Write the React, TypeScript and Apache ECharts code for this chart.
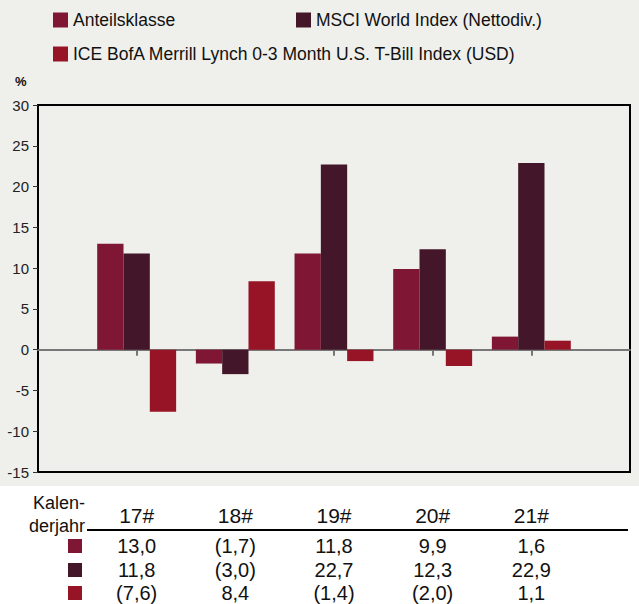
import React, { useEffect, useRef } from "react";
import * as echarts from "echarts";

const categories = ["17#", "18#", "19#", "20#", "21#"];
const seriesNames = [
  "Anteilsklasse",
  "MSCI World Index (Nettodiv.)",
  "ICE BofA Merrill Lynch 0-3 Month U.S. T-Bill Index (USD)",
];
const anteilsklasse = [13.0, -1.7, 11.8, 9.9, 1.6];
const msciWorld = [11.8, -3.0, 22.7, 12.3, 22.9];
const iceBofa = [-7.6, 8.4, -1.4, -2.0, 1.1];
const yTicks = { min: -15, max: 30, interval: 5 };
const colors = ["#7f1734", "#431629", "#961425"];

const FONT = "'Liberation Sans', Arial, sans-serif";

const fmt = (v: number) => {
  const s = Math.abs(v).toFixed(1).replace(".", ",");
  return v < 0 ? `(${s})` : s;
};

export default function App() {
  const ref = useRef<HTMLDivElement>(null);
  useEffect(() => {
    document.body.style.margin = "0";
    document.body.style.overflow = "hidden";
    const chart = echarts.init(ref.current!, null, { renderer: "svg" });
    const axisCats = ["", ...categories, ""];
    const pad = (arr: number[]) => ["-", ...arr, "-"];
    const allSeries = [anteilsklasse, msciWorld, iceBofa];
    const rowOffsets = [74, 98, 121];

    const valueAxis = (idx: number, offset: number) => ({
      type: "category",
      data: axisCats,
      boundaryGap: false,
      position: "bottom",
      offset,
      axisLine: { show: false, onZero: false },
      axisTick: { show: false },
      axisLabel: {
        interval: 0,
        margin: 0,
        verticalAlign: "middle",
        fontSize: 20,
        fontFamily: FONT,
        color: "#111",
        formatter: (_v: string, i: number) =>
          i >= 1 && i <= categories.length ? fmt(allSeries[idx][i - 1]) : "",
      },
    });

    chart.setOption({
      animation: false,
      backgroundColor: "transparent",
      textStyle: { fontFamily: FONT },
      grid: {
        left: 38,
        right: 9,
        top: 105,
        bottom: 132,
        show: true,
        borderColor: "#000",
        borderWidth: 2,
        backgroundColor: "transparent",
        outerBoundsMode: "none",
        containLabel: false,
      },
      legend: [0, 1, 2].map((i) => ({
        data: [seriesNames[i]],
        left: i === 1 ? 291 : 48,
        top: i === 2 ? 40 : 6,
        icon: "rect",
        itemWidth: 15,
        itemHeight: 15,
        selectedMode: false,
        textStyle: {
          fontSize: 17.5,
          fontFamily: FONT,
          color: "#111",
          padding: [0, 0, 0, 0],
        },
      })),
      xAxis: [
        {
          type: "category",
          data: axisCats,
          boundaryGap: false,
          axisLine: {
            onZero: true,
            lineStyle: { color: "#777", type: [2, 1], width: 2 },
          },
          axisTick: {
            show: true,
            length: 6,
            interval: (i: number) => i >= 1 && i <= categories.length,
            lineStyle: { color: "#777", width: 2 },
          },
          axisLabel: { show: false },
        },
        {
          type: "category",
          data: axisCats,
          boundaryGap: false,
          position: "bottom",
          offset: 43,
          axisLine: { show: false, onZero: false },
          axisTick: { show: false },
          axisLabel: {
            interval: 0,
            margin: 0,
            verticalAlign: "middle",
            fontSize: 21,
            fontFamily: FONT,
            color: "#111",
          },
        },
        valueAxis(0, rowOffsets[0]),
        valueAxis(1, rowOffsets[1]),
        valueAxis(2, rowOffsets[2]),
      ],
      yAxis: {
        type: "value",
        min: yTicks.min,
        max: yTicks.max,
        interval: yTicks.interval,
        axisLine: { show: true, lineStyle: { color: "#000", width: 2 } },
        axisTick: { show: true, length: 5, lineStyle: { color: "#333", width: 1 } },
        axisLabel: { fontSize: 15, fontFamily: FONT, color: "#222", margin: 9 },
        splitLine: { show: false },
      },
      series: allSeries.map((arr, i) => ({
        name: seriesNames[i],
        type: "bar",
        data: pad(arr),
        barGap: "0%",
        barCategoryGap: "20%",
        itemStyle: { color: colors[i] },
        z: 1,
      })),
      graphic: [
        {
          type: "rect",
          z: -10,
          silent: true,
          shape: { x: 0, y: 0, width: 639, height: 486 },
          style: { fill: "#efefeb" },
        },
        {
          type: "text",
          x: 15,
          y: 75,
          style: { text: "%", font: `bold 13px ${FONT}`, fill: "#111" },
        },
        {
          type: "text",
          x: 85,
          y: 503,
          style: {
            text: "Kalen-",
            font: `18px ${FONT}`,
            fill: "#111",
            align: "right",
            verticalAlign: "middle",
          },
        },
        {
          type: "text",
          x: 85,
          y: 526,
          style: {
            text: "derjahr",
            font: `18px ${FONT}`,
            fill: "#111",
            align: "right",
            verticalAlign: "middle",
          },
        },
        {
          type: "line",
          shape: { x1: 87, y1: 530, x2: 628, y2: 530 },
          style: { stroke: "#000", lineWidth: 2 },
        },
        ...colors.map((c, i) => ({
          type: "rect",
          shape: { x: 68, y: 472 + rowOffsets[i] - 7, width: 14, height: 14 },
          style: { fill: c },
        })),
      ],
    });
    return () => chart.dispose();
  }, []);
  return <div ref={ref} style={{ width: 639, height: 604 }} />;
}
